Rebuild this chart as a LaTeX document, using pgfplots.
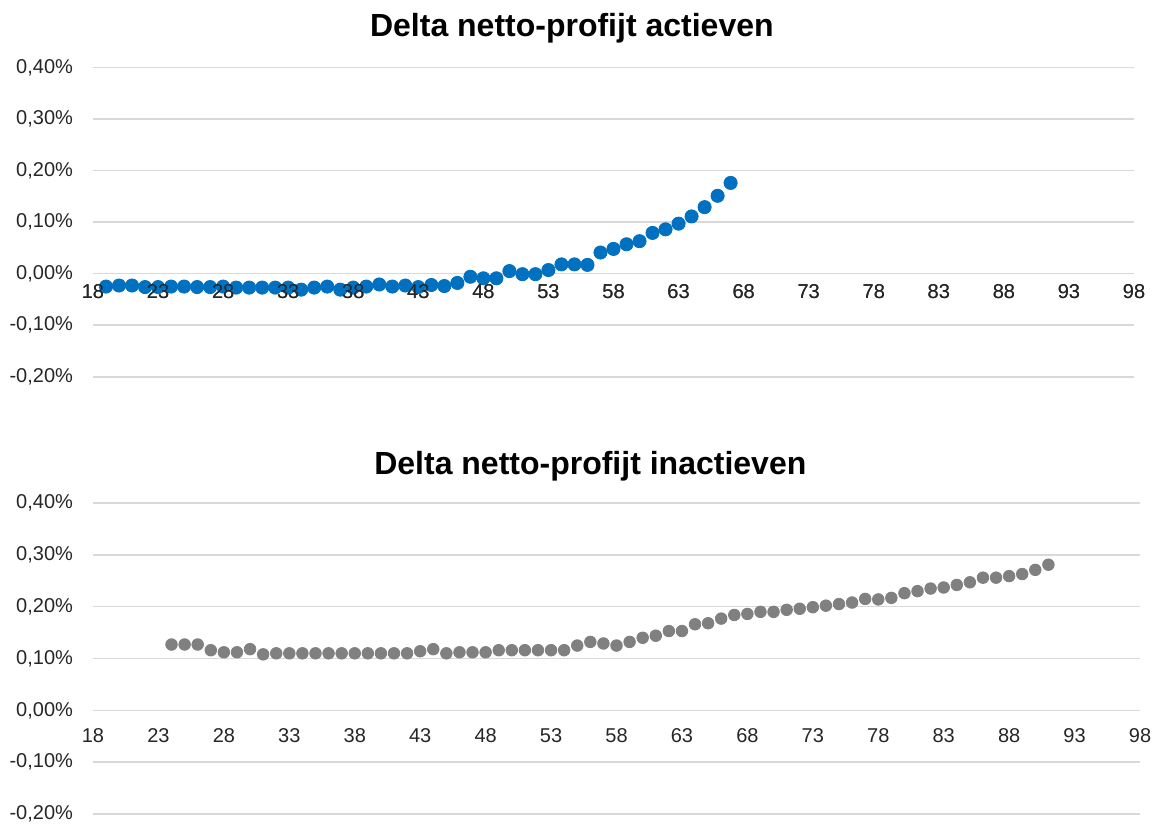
\documentclass[border=0pt]{standalone}
\usepackage{pgfplots}
\pgfplotsset{compat=1.18}
\usepackage{fontspec}
\setmainfont{Liberation Sans}

\definecolor{xlblue}{HTML}{0070C0}
\definecolor{xlgray}{HTML}{808080}
\definecolor{gridgray}{HTML}{D9D9D9}

\pgfplotsset{
  deltastyle/.style={
    scale only axis,
    xmin=18, xmax=98, ymin=-0.2, ymax=0.4,
    enlargelimits=false,
    axis x line=middle,
    axis y line=left,
    x axis line style={-, draw=gridgray, line width=0.75pt},
    y axis line style={draw=none},
    tick style={draw=none},
    major tick length=0pt,
    hide obscured x ticks=false,
    hide obscured y ticks=false,
    xtick={18,23,...,98},
    xticklabels={18,23,28,33,38,43,48,53,58,63,68,73,78,83,88,93,98},
    ytick={-0.2,-0.1,0,0.1,0.2,0.3,0.4},
    yticklabels={{-0,20\%},{-0,10\%},{0,00\%},{0,10\%},{0,20\%},{0,30\%},{0,40\%}},
    ticklabel style={font=\fontsize{10}{12}\selectfont, text=black!85},
    yticklabel style={anchor=east, xshift=-6.5pt},
    ymajorgrids,
    grid style={draw=gridgray, line width=0.75pt},
    title style={font=\bfseries\fontsize{16}{19}\selectfont, anchor=base},
    clip=false,
  },
  % second pass: only the x tick labels, drawn over the markers
  labelpass/.style={
    deltastyle,
    ytick=\empty, ymajorgrids=false,
    x axis line style={draw=none},
  },
}

\begin{document}
\begin{tikzpicture}
\useasboundingbox (0,0) rectangle (577pt,412pt);

% actieven
\begin{axis}[
  deltastyle,
  at={(46.5pt,223.6pt)}, anchor=south west,
  width=520.5pt, height=154.7pt,
  xticklabel style={yshift=-1.9pt},
  title={Delta netto-profijt actieven},
  title style={at={(0.46,1)}, yshift=9.6pt},
]
\addplot[only marks, mark=*, mark size=3.3pt, color=xlblue, mark options={draw=xlblue, fill=xlblue}] coordinates {
(19,-0.025) (20,-0.023) (21,-0.023) (22,-0.026) (23,-0.026) (24,-0.025)
(25,-0.025) (26,-0.026) (27,-0.026) (28,-0.025) (29,-0.027) (30,-0.027)
(31,-0.027) (32,-0.027) (33,-0.027) (34,-0.031) (35,-0.027) (36,-0.025)
(37,-0.031) (38,-0.027) (39,-0.025) (40,-0.021) (41,-0.025) (42,-0.023)
(43,-0.026) (44,-0.022) (45,-0.024) (46,-0.018) (47,-0.006) (48,-0.009)
(49,-0.009) (50,0.005) (51,-0.001) (52,-0.001) (53,0.007) (54,0.018)
(55,0.018) (56,0.017) (57,0.041) (58,0.048) (59,0.057) (60,0.063)
(61,0.079) (62,0.086) (63,0.097) (64,0.111) (65,0.129) (66,0.151)
(67,0.176)
};
\end{axis}
\begin{axis}[
  labelpass,
  at={(46.5pt,223.6pt)}, anchor=south west,
  width=520.5pt, height=154.7pt,
  xticklabel style={yshift=-1.9pt},
]
\end{axis}

% inactieven
\begin{axis}[
  deltastyle,
  at={(46.5pt,5pt)}, anchor=south west,
  width=523.5pt, height=155.5pt,
  xticklabel style={yshift=-5.6pt},
  title={Delta netto-profijt inactieven},
  title style={at={(0.475,1)}, yshift=8.5pt},
]
\addplot[only marks, mark=*, mark size=2.9pt, color=xlgray, mark options={draw=xlgray, fill=xlgray}] coordinates {
(24,0.127) (25,0.127) (26,0.127) (27,0.116) (28,0.112) (29,0.112)
(30,0.118) (31,0.108) (32,0.110) (33,0.110) (34,0.110) (35,0.110)
(36,0.110) (37,0.110) (38,0.110) (39,0.110) (40,0.110) (41,0.110)
(42,0.110) (43,0.114) (44,0.118) (45,0.110) (46,0.112) (47,0.112)
(48,0.112) (49,0.116) (50,0.116) (51,0.116) (52,0.116) (53,0.116)
(54,0.116) (55,0.125) (56,0.132) (57,0.129) (58,0.125) (59,0.132)
(60,0.140) (61,0.144) (62,0.153) (63,0.153) (64,0.166) (65,0.168)
(66,0.177) (67,0.184) (68,0.186) (69,0.190) (70,0.190) (71,0.194)
(72,0.196) (73,0.199) (74,0.202) (75,0.205) (76,0.208) (77,0.215)
(78,0.214) (79,0.217) (80,0.226) (81,0.230) (82,0.235) (83,0.237)
(84,0.242) (85,0.247) (86,0.256) (87,0.256) (88,0.259) (89,0.263)
(90,0.271) (91,0.281)
};
\end{axis}
\end{tikzpicture}
\end{document}
